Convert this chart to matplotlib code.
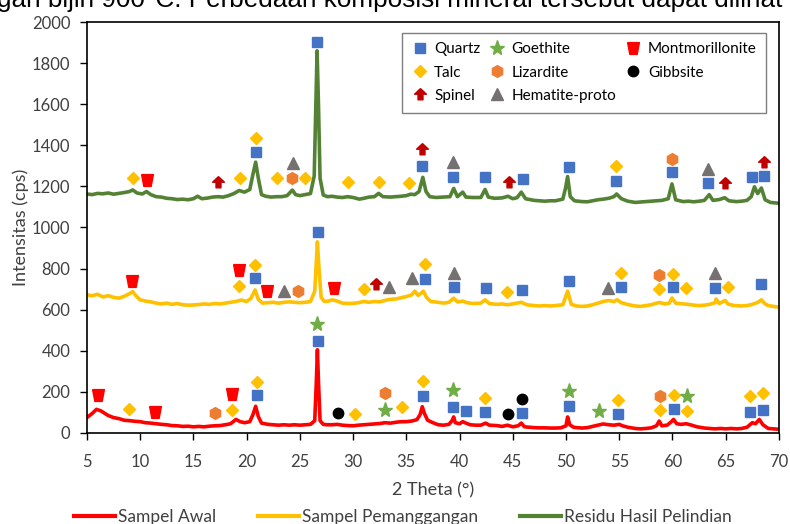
import matplotlib

matplotlib.use("Agg")
import matplotlib.pyplot as plt
from matplotlib.lines import Line2D

plt.rcParams["font.family"] = ["Lato", "DejaVu Sans"]

# ── XRD traces (2θ, intensity in cps) ─────────────────────────────────────
awal_x = [5.0, 5.5, 5.9, 6.3, 7, 7.5, 8, 8.5, 9, 9.5, 10, 10.5, 11, 11.5, 12, 12.5, 13, 13.5, 14, 14.5,
          15, 15.5, 16, 16.5, 17, 17.5, 18, 18.5, 19, 19.4, 19.8, 20.3, 20.6, 20.85, 21.1, 21.4, 22, 22.5,
          23, 23.5, 24, 24.5, 25, 25.5, 26, 26.4, 26.55, 26.65, 26.75, 26.9, 27.2, 27.5, 28, 28.5, 29,
          29.5, 30, 30.5, 31, 31.5, 32, 32.5, 33, 33.5, 34, 34.5, 35, 35.5, 36, 36.3, 36.5, 36.7, 37,
          37.5, 38, 38.5, 39, 39.3, 39.45, 39.6, 40, 40.3, 40.6, 41, 41.5, 42, 42.45, 42.8, 43.5, 44,
          44.5, 45, 45.5, 45.8, 46.1, 46.5, 47, 47.5, 48, 48.5, 49, 49.5, 50, 50.15, 50.35, 50.7, 51,
          51.5, 52, 52.5, 53, 53.5, 54, 54.5, 55, 55.3, 55.8, 56.5, 57, 57.5, 58, 58.5, 58.75, 59, 59.5,
          59.9, 60.1, 60.4, 60.8, 61.3, 61.8, 62.3, 63, 63.5, 64, 64.5, 65, 65.5, 66, 66.5, 67, 67.5,
          67.8, 68.15, 68.5, 69, 69.5, 70]
awal_y = [75, 95, 115, 108, 85, 75, 70, 62, 60, 57, 55, 50, 48, 45, 42, 40, 36, 35, 32, 33,
          30, 32, 30, 33, 35, 36, 40, 45, 66, 55, 50, 55, 90, 130, 80, 48, 42, 40,
          38, 40, 38, 40, 38, 40, 42, 60, 250, 405, 250, 60, 42, 40, 40, 42, 38,
          36, 35, 38, 40, 42, 44, 46, 50, 48, 52, 55, 55, 58, 65, 90, 128, 95, 62,
          50, 40, 38, 42, 60, 78, 50, 45, 55, 48, 40, 38, 38, 48, 38, 36, 32,
          38, 30, 35, 48, 30, 28, 26, 25, 25, 24, 24, 25, 35, 78, 40, 28, 26,
          24, 26, 32, 38, 44, 40, 38, 42, 35, 28, 22, 20, 22, 25, 35, 58, 35, 38,
          55, 66, 45, 42, 45, 38, 30, 24, 22, 20, 22, 20, 22, 20, 22, 28, 50,
          45, 66, 40, 22, 20, 18]

bakar_x = [5, 5.5, 6, 6.5, 7, 7.5, 8, 8.5, 9, 9.3, 9.6, 10, 10.5, 11, 11.5, 12, 12.5, 13, 13.5, 14,
           14.5, 15, 15.5, 16, 16.5, 17, 17.5, 18, 18.5, 19, 19.5, 20, 20.4, 20.8, 21.1, 21.5, 22, 22.5,
           23, 23.5, 24, 24.5, 25, 25.5, 26, 26.4, 26.55, 26.65, 26.8, 27, 27.3, 27.7, 28, 28.3, 28.7,
           29, 29.5, 30, 30.5, 31, 31.5, 32, 32.5, 33, 33.4, 34, 34.5, 35, 35.5, 35.8, 36.1, 36.4, 36.6,
           36.9, 37.3, 38, 38.5, 39, 39.45, 39.8, 40.3, 40.7, 41.3, 42, 42.4, 42.8, 43.5, 44, 44.5, 45,
           45.8, 46.3, 47, 47.5, 48, 48.5, 49, 49.7, 50.15, 50.5, 51, 51.5, 52, 52.5, 53, 53.5, 54, 54.5,
           54.8, 55.2, 55.8, 56.5, 57, 57.5, 58, 58.5, 58.8, 59.3, 59.7, 59.95, 60.3, 61, 61.5, 62, 62.5,
           63, 63.5, 64, 64.1, 64.4, 64.95, 65.2, 65.8, 66.5, 67, 67.5, 68, 68.35, 68.7, 69, 69.5, 70]
bakar_y = [672, 668, 675, 662, 668, 660, 656, 665, 678, 688, 668, 648, 642, 638, 632, 628, 632, 626, 630, 624,
           622, 623, 625, 628, 626, 630, 628, 632, 636, 640, 647, 640, 655, 696, 650, 632, 634, 636,
           632, 636, 638, 636, 634, 636, 640, 690, 830, 930, 800, 660, 640, 642, 648, 645, 638,
           632, 630, 631, 634, 640, 636, 640, 638, 645, 650, 652, 658, 664, 672, 690, 670, 680, 690,
           660, 640, 636, 632, 636, 656, 638, 642, 634, 630, 632, 648, 630, 626, 628, 624, 628,
           636, 624, 620, 618, 620, 618, 620, 624, 690, 626, 618, 616, 618, 624, 632, 640, 645, 640,
           648, 634, 625, 618, 616, 620, 624, 632, 635, 628, 632, 657, 632, 628, 626, 622, 620,
           622, 626, 634, 652, 630, 645, 628, 620, 618, 620, 626, 635, 648, 628, 620, 616, 612]

residu_x = [5, 5.5, 6, 6.5, 7, 7.5, 8, 8.5, 9, 9.3, 9.7, 10.2, 10.6, 11, 11.5, 12, 12.5, 13, 13.5, 14,
            14.5, 15, 15.4, 15.8, 16.3, 16.8, 17.3, 17.8, 18.3, 18.8, 19.3, 19.8, 20.3, 20.6, 20.85, 21.1,
            21.4, 21.8, 22.3, 22.8, 23.3, 23.8, 24.3, 24.6, 25, 25.5, 26, 26.35, 26.5, 26.62, 26.75, 26.9,
            27.2, 27.6, 28, 28.5, 29, 29.5, 30, 30.6, 31, 31.5, 32, 32.4, 32.8, 33.5, 34, 34.5, 35, 35.4,
            35.8, 36.2, 36.55, 36.85, 37.2, 37.8, 38.5, 39.1, 39.45, 39.8, 40.3, 40.6, 41.2, 42, 42.4,
            42.7, 43.3, 44, 44.55, 45, 45.4, 45.8, 46.2, 47, 47.5, 48, 48.5, 49, 49.7, 49.95, 50.15, 50.4,
            50.8, 51.5, 52, 52.5, 53, 53.5, 54, 54.5, 54.75, 55.2, 55.8, 56.5, 57, 57.5, 58, 58.5, 59,
            59.6, 59.95, 60.3, 61, 61.5, 62, 62.5, 63, 63.45, 63.8, 64.4, 64.9, 65.3, 66, 66.5, 67, 67.4,
            67.7, 68, 68.35, 68.7, 69.2, 69.6, 70]
residu_y = [1163, 1160, 1166, 1164, 1168, 1162, 1166, 1170, 1175, 1183, 1168, 1163, 1175, 1160, 1150, 1148,
            1142, 1140, 1136, 1138, 1135, 1140, 1152, 1140, 1143, 1148, 1150, 1148, 1155, 1165, 1180, 1172,
            1185, 1260, 1318, 1240, 1160, 1152, 1148, 1150, 1150, 1155, 1182, 1160, 1155, 1160, 1165, 1250,
            1600, 1860, 1600, 1240, 1158, 1150, 1152, 1148, 1146, 1150, 1146, 1138, 1142, 1148, 1150, 1166,
            1150, 1148, 1150, 1152, 1155, 1162, 1160, 1175, 1244, 1175, 1150, 1146, 1148, 1150, 1190, 1150,
            1172, 1148, 1146, 1146, 1185, 1148, 1142, 1144, 1152, 1140, 1145, 1172, 1140, 1132, 1130, 1128,
            1130, 1130, 1138, 1190, 1248, 1150, 1130, 1126, 1125, 1130, 1135, 1138, 1142, 1150, 1163, 1140,
            1128, 1122, 1124, 1126, 1128, 1130, 1132, 1140, 1212, 1135, 1126, 1128, 1125, 1128, 1132, 1160,
            1132, 1136, 1145, 1130, 1126, 1128, 1132, 1150, 1198, 1165, 1192, 1135, 1122, 1120, 1118]

# ── phase markers (2θ, label height) ───────────────────────────────────────
quartz_x = [20.9, 26.6, 36.5, 39.4, 42.4, 45.97, 50.26, 54.73, 59.96, 63.34, 67.47, 68.6,
            20.78, 26.7, 36.74, 39.5, 42.5, 45.9, 50.26, 55.2, 60.05, 64.0, 68.35,
            21.0, 26.7, 36.6, 39.4, 40.6, 42.4, 45.9, 50.26, 54.9, 60.1, 67.26, 68.5]
quartz_y = [1369, 1905, 1301, 1247, 1244, 1234, 1296, 1226, 1270, 1215, 1244, 1251,
            756, 980, 749, 712, 704, 696, 740, 712, 712, 704, 723,
            185, 449, 180, 125, 107, 104, 96, 131, 91, 117, 100, 112]
goethite_x = [26.65, 32.98, 39.4, 50.26, 53.1, 61.4]
goethite_y = [528, 112, 209, 204, 109, 182]
montmor_x = [10.6, 9.2, 19.27, 21.87, 28.2, 6.06, 11.4, 18.6]
montmor_y = [1231, 741, 793, 691, 704, 185, 100, 188]
talc_x = [9.3, 19.4, 20.9, 22.84, 25.47, 29.48, 32.4, 35.27, 54.73,
          19.27, 20.78, 31.0, 36.74, 44.5, 55.2, 58.7, 60.05, 61.3, 65.2,
          8.94, 18.6, 21.0, 30.2, 34.6, 36.6, 42.4, 54.9, 58.8, 60.1, 61.4, 67.26, 68.5]
talc_y = [1241, 1239, 1434, 1239, 1239, 1220, 1220, 1215, 1301,
          717, 818, 699, 822, 685, 780, 699, 774, 704, 712,
          117, 112, 250, 91, 125, 253, 172, 161, 112, 185, 107, 180, 193]
lizardite_x = [24.28, 59.96, 24.84, 58.7, 17.0, 32.98, 58.8]
lizardite_y = [1239, 1333, 691, 769, 96, 196, 182]
gibbsite_x = [28.54, 44.56, 45.9]
gibbsite_y = [96, 91, 164]
spinel_x = [17.27, 36.5, 44.6, 64.97, 68.6, 32.2]
spinel_y = [1223, 1380, 1223, 1215, 1320, 725]
hematite_x = [24.4, 39.4, 63.34, 23.5, 33.4, 35.5, 39.5, 53.95, 64.0]
hematite_y = [1315, 1320, 1283, 691, 712, 753, 777, 704, 777]

RED, YELLOW, GREEN = "#FF0000", "#FFC000", "#548235"
TRAPEZOID = [(-1, 1), (1, 1), (0.62, -1), (-0.62, -1), (-1, 1)]
ARROW = [(0, 1), (1, 0.05), (0.42, 0.05), (0.42, -0.9), (-0.42, -0.9), (-0.42, 0.05), (-1, 0.05), (0, 1)]

fig = plt.figure(figsize=(7.9, 5.24), dpi=100)
ax = fig.add_axes([0.110, 0.1737, 0.876, 0.7843])

ax.plot(awal_x, awal_y, color=RED, lw=2.6, zorder=2)
ax.plot(bakar_x, bakar_y, color=YELLOW, lw=2.6, zorder=2)
ax.plot(residu_x, residu_y, color=GREEN, lw=2.6, zorder=2)

phases = [
    ("Quartz", quartz_x, quartz_y, "s", "#4472C4", 7.5),
    ("Talc", talc_x, talc_y, "D", "#FFC000", 6.5),
    ("Spinel", spinel_x, spinel_y, ARROW, "#C00000", 8.5),
    ("Goethite", goethite_x, goethite_y, "*", "#70AD47", 11),
    ("Lizardite", lizardite_x, lizardite_y, "h", "#ED7D31", 8.5),
    ("Hematite-proto", hematite_x, hematite_y, "^", "#767171", 8),
    ("Montmorillonite", montmor_x, montmor_y, TRAPEZOID, "#FF0000", 8.5),
    ("Gibbsite", gibbsite_x, gibbsite_y, "o", "black", 7.5),
]
for name, xs, ys, mk, col, ms in phases:
    ax.plot(xs, ys, ls="none", marker=mk, color=col, mec=col, ms=ms, label=name, zorder=3)

ax.set_xlim(5, 70)
ax.set_ylim(0, 2000)
ax.set_xticks(range(5, 71, 5))
ax.set_yticks(range(0, 2001, 200))
ax.tick_params(direction="out", length=5, width=1, labelsize=12, colors="black")
ax.tick_params(axis="x", pad=10)
ax.tick_params(axis="y", pad=7)
for lab in ax.get_xticklabels() + ax.get_yticklabels():
    lab.set_color("#404040")
for s in ax.spines.values():
    s.set_linewidth(1.2)
    s.set_color("black")
ax.set_xlabel("2 Theta (°)", fontsize=13, labelpad=9, color="#404040")
ax.set_ylabel("Intensitas (cps)", fontsize=13, labelpad=2, color="#404040")

ax.legend(loc="upper right", ncol=3, bbox_to_anchor=(0.993, 0.993), fontsize=11, frameon=True,
          fancybox=False, edgecolor="#7f7f7f", framealpha=1, handlelength=1.0, handletextpad=0.45,
          columnspacing=0.6, labelspacing=0.6, borderpad=0.65)

line_handles = [Line2D([], [], color=c, lw=3) for c in (RED, YELLOW, GREEN)]
fig.legend(line_handles, ["Sampel Awal", "Sampel Pemanggangan", "Residu Hasil Pelindian"],
           loc="center", bbox_to_anchor=(0.51, 1 - 517 / 524), ncol=3, frameon=False, fontsize=12.5,
           handlelength=2.35, handletextpad=0.2, columnspacing=2.4, labelcolor="#404040")

# body text of the source page, cut by the crop at the top edge
fig.text(-0.004, 1 - 7.5 / 524, "gan bijih 900°C. Perbedaan komposisi mineral tersebut dapat dilihat",
         fontsize=18.8, va="baseline", ha="left", family=["Liberation Sans", "DejaVu Sans"])

fig.savefig("out.png", dpi=100)
plt.close(fig)
